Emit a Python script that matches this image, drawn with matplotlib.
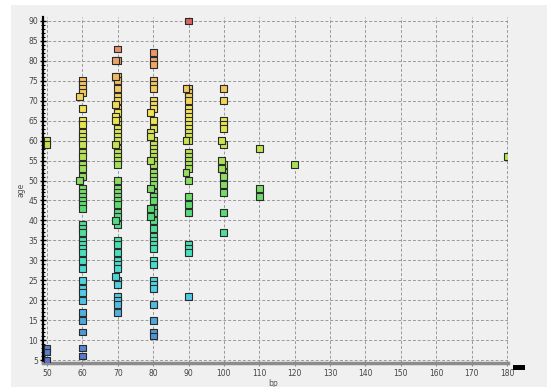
import numpy as np
import matplotlib.pyplot as plt
from matplotlib.colors import LinearSegmentedColormap, Normalize
from matplotlib.patches import Rectangle

# -------------------------
# Data (bp column -> ages)
# -------------------------

ages_50 = [60, 59, 8, 7, 5]
ages_60 = [75, 74, 73, 72, 68, 65, 64, 62, 61, 60, 59, 57, 56, 54, 53, 51, 48, 47, 46,
           45, 44, 43, 39, 38, 37, 35, 34, 33, 32, 30, 28, 25, 23, 22, 20, 17, 15, 12, 8, 6]
ages_70 = [83, 80, 76, 75, 73, 71, 70, 68, 67, 65, 64, 63, 62, 61, 60, 58, 57, 56, 55, 54,
           50, 48, 47, 46, 45, 44, 42, 41, 39, 35, 34, 32, 30, 29, 28, 25, 24, 21, 20, 19, 17]
ages_80 = [82, 80, 79, 75, 74, 73, 70, 69, 68, 65, 63, 60, 59, 58, 57, 56, 55, 54, 52, 51,
           50, 49, 47, 46, 45, 43, 42, 40, 38, 36, 35, 34, 33, 30, 29, 25, 24, 23, 19, 15, 12, 11]
ages_90 = [90, 73, 72, 71, 70, 68, 67, 66, 65, 64, 63, 62, 61, 60, 57, 56, 55, 54, 53, 50,
           46, 44, 42, 34, 33, 32, 21]
ages_100 = [73, 70, 65, 64, 63, 59, 54, 52, 51, 49, 47, 42, 37]
ages_110 = [58, 48, 46]
ages_120 = [54]
ages_180 = [56]

# points drawn slightly left of their column
shift_bp = [59.3, 59.3,
            69.3, 69.3, 69.3, 69.3, 69.3, 69.3, 69.3, 69.3,
            79.3, 79.3, 79.3, 79.3, 79.3, 79.3, 79.3,
            89.3, 89.3, 89.3,
            99.3, 99.3, 99.3]
shift_age = [71, 50,
             80, 76, 69, 66, 65, 59, 40, 26,
             67, 62, 61, 55, 48, 43, 41,
             73, 60, 52,
             60, 55, 53]

columns = {50: ages_50, 60: ages_60, 70: ages_70, 80: ages_80, 90: ages_90,
           100: ages_100, 110: ages_110, 120: ages_120, 180: ages_180}

bp = []
age = []
for b, ages in columns.items():
    bp += [b] * len(ages)
    age += ages
bp = np.array(bp + shift_bp, dtype=float)
age = np.array(age + shift_age, dtype=float)

# -------------------------
# Plot
# -------------------------

cmap = LinearSegmentedColormap.from_list("age", [
    (0.00, "#5a74d0"), (0.10, "#4f9ed6"), (0.20, "#52cce6"), (0.30, "#46e0c4"),
    (0.45, "#5ad872"), (0.60, "#b4e052"), (0.72, "#f2e654"), (0.82, "#f0c060"),
    (0.90, "#ec9a6c"), (1.00, "#d86466")])
norm = Normalize(5, 90)

fig = plt.figure(figsize=(5.47, 3.87), dpi=100, facecolor="white")
fig.patches.append(Rectangle((11 / 547, 0), 1, 1 - 5 / 387, transform=fig.transFigure,
                             facecolor="#f0f0f0", edgecolor="none", zorder=-10))

ax = fig.add_axes([43 / 547, 24 / 387, 465 / 547, 346 / 387])
ax.set_facecolor("#f0f0f0")

ax.scatter(bp, age, c=cmap(norm(age)), marker="s", s=24, edgecolors="#2a2a2a",
           linewidths=0.8, zorder=3)

ax.set_xlim(48.87, 180.3)
ax.set_ylim(4.25, 91.0)
ax.set_xticks(np.arange(50, 181, 10))
ax.set_yticks(np.arange(5, 91, 5))
ax.set_yticks(np.arange(5, 91, 1), minor=True)

ax.grid(True, which="major", color="#9a9a9a", linestyle=(0, (3, 2)), linewidth=0.7)
for s in ["top", "right"]:
    ax.spines[s].set_visible(False)
ax.spines["left"].set_color("black")
ax.spines["left"].set_linewidth(1.6)
ax.spines["bottom"].set_color("#8c8c8c")
ax.spines["bottom"].set_linewidth(2.5)

ax.tick_params(axis="y", which="major", direction="inout", length=5, width=1,
               color="black", labelsize=5.5, labelcolor="#444444", pad=1)
ax.tick_params(axis="y", which="minor", direction="inout", length=3, width=0.8,
               color="black")
ax.tick_params(axis="x", which="major", direction="inout", length=4, width=0.8,
               color="#8c8c8c", labelsize=5.5, labelcolor="#444444", pad=2)

ax.set_xlabel("bp", fontsize=5.5, color="#555555")
ax.xaxis.set_label_coords(0.495, -0.045)
ax.set_ylabel("age", fontsize=5.5, color="#555555", labelpad=2)

fig.patches.append(Rectangle((513 / 547, 17 / 387), 12 / 547, 5 / 387,
                             transform=fig.transFigure, facecolor="black",
                             edgecolor="none"))

fig.savefig("out.png", dpi=100, facecolor=fig.get_facecolor())
